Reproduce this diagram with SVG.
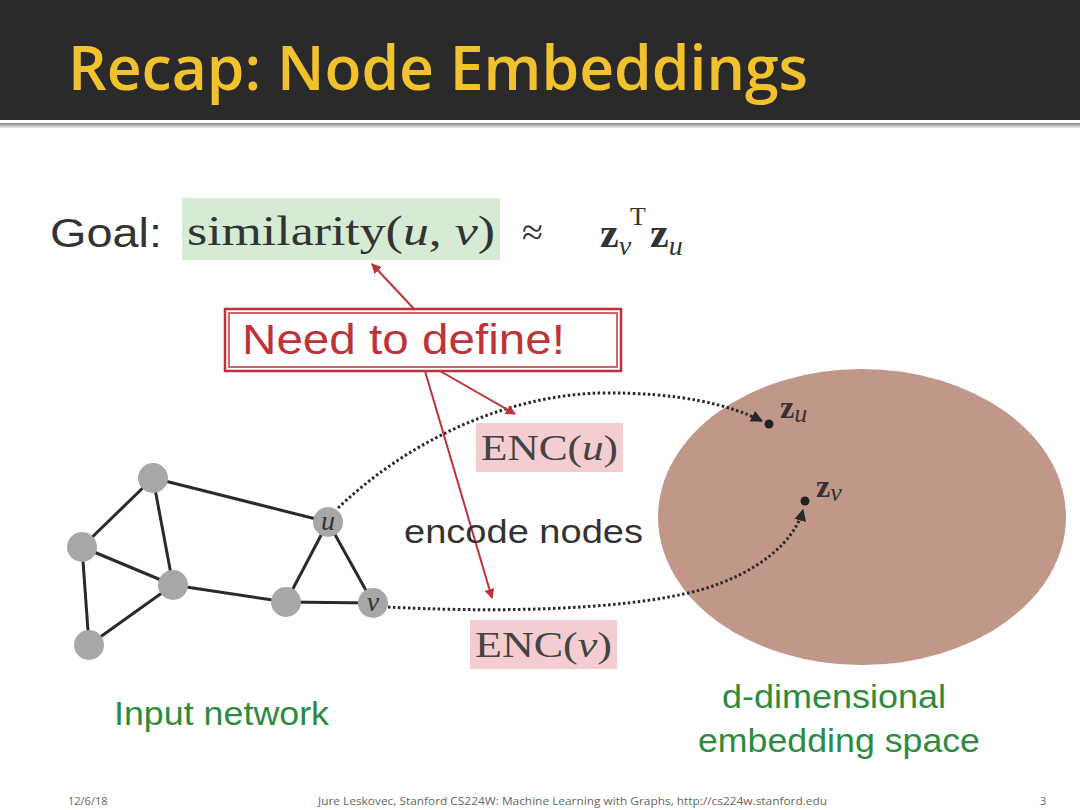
<svg xmlns="http://www.w3.org/2000/svg" width="1080" height="810" viewBox="0 0 1080 810">
<defs>
<style>
.edge{stroke:#2a2a2a;stroke-width:3;fill:none}
.node{fill:#a6a8a7}
.dot{stroke:#2a2a2a;stroke-width:3;fill:none;stroke-dasharray:2.5 2.5}
.red{stroke:#c0323a;stroke-width:2;fill:none}
.serif{font-family:"Liberation Serif","DejaVu Serif",serif}
.sans{font-family:"Liberation Sans",Arial,sans-serif}
.green{fill:#2e8b3e}
</style>
<marker id="ra" viewBox="0 0 10 10" refX="9" refY="5" markerWidth="5" markerHeight="5" orient="auto"><path d="M0,0 L10,5 L0,10 z" fill="#c0323a"/></marker>
<marker id="ka" viewBox="0 0 10 10" refX="9" refY="5" markerWidth="4" markerHeight="4" orient="auto"><path d="M0,0 L10,5 L0,10 z" fill="#2a2a2a"/></marker>
<linearGradient id="bar" x1="0" y1="0" x2="0" y2="1"><stop offset="0" stop-color="#888"/><stop offset="1" stop-color="#eee"/></linearGradient>
</defs>
<rect width="1080" height="810" fill="#fff"/>
<g id="title">
<rect x="0" y="0" width="1080" height="120" fill="#2a2a2a"/>
<rect x="0" y="123" width="1080" height="5" fill="url(#bar)"/>
<text x="68" y="90" font-family="Open Sans,Liberation Sans,sans-serif" font-weight="600" font-size="62" fill="#f2c12e" textLength="740" lengthAdjust="spacingAndGlyphs">Recap: Node Embeddings</text>
</g>
<g id="goal">
<text x="50" y="247" class="sans" font-size="41" fill="#333" textLength="112" lengthAdjust="spacingAndGlyphs">Goal:</text>
<rect x="182" y="198" width="318" height="62" fill="#d5ebd3"/>
<text x="187" y="245" class="serif" font-size="42" fill="#333" textLength="308" lengthAdjust="spacingAndGlyphs">similarity(<tspan font-style="italic">u</tspan>, <tspan font-style="italic">v</tspan>)</text>
<text x="522" y="245" class="serif" font-size="38" fill="#333">≈</text>
<text x="600" y="247" class="serif" font-size="42" fill="#333"><tspan font-weight="bold">z</tspan><tspan font-size="28" font-style="italic" dy="8">v</tspan><tspan font-size="26" x="630" dy="-30">T</tspan><tspan font-weight="bold" x="650" dy="22">z</tspan><tspan font-size="28" font-style="italic" dy="8">u</tspan></text>
</g>
<g id="need-to-define">
<rect x="225" y="309" width="396" height="62" fill="#fff" stroke="#c0323a" stroke-width="2.5"/>
<rect x="229" y="313" width="388" height="54" fill="none" stroke="#c0323a" stroke-width="1.5"/>
<text x="242" y="354" class="sans" font-size="42" fill="#c0323a" textLength="323" lengthAdjust="spacingAndGlyphs">Need to define!</text>
</g>
<g id="network">
<line class="edge" x1="153" y1="478" x2="82" y2="547"/>
<line class="edge" x1="153" y1="478" x2="173" y2="585"/>
<line class="edge" x1="153" y1="478" x2="328" y2="522"/>
<line class="edge" x1="82" y1="547" x2="173" y2="585"/>
<line class="edge" x1="82" y1="547" x2="89" y2="645"/>
<line class="edge" x1="173" y1="585" x2="89" y2="645"/>
<line class="edge" x1="173" y1="585" x2="286" y2="602"/>
<line class="edge" x1="286" y1="602" x2="328" y2="522"/>
<line class="edge" x1="286" y1="602" x2="373" y2="603"/>
<line class="edge" x1="328" y1="522" x2="373" y2="603"/>
<circle id="n1" class="node" cx="153" cy="478" r="15"/>
<circle id="n2" class="node" cx="82" cy="547" r="15"/>
<circle id="n3" class="node" cx="173" cy="585" r="15"/>
<circle id="n4" class="node" cx="89" cy="645" r="15"/>
<circle id="n5" class="node" cx="286" cy="602" r="15"/>
<g id="node-u"><circle class="node" cx="328" cy="522" r="15"/><text x="328" y="530" text-anchor="middle" class="serif" font-style="italic" font-size="28" fill="#333">u</text></g>
<g id="node-v"><circle class="node" cx="373" cy="603" r="15"/><text x="373" y="611" text-anchor="middle" class="serif" font-style="italic" font-size="28" fill="#333">v</text></g>
</g>
<g id="embedding-space">
<ellipse cx="862" cy="517" rx="204" ry="148" fill="#c1978a"/>
<circle cx="769" cy="424" r="4.5" fill="#222"/>
<text x="780" y="418" class="serif" font-size="32" fill="#333"><tspan font-weight="bold">z</tspan><tspan font-style="italic" font-size="26" dy="4">u</tspan></text>
<circle cx="805" cy="501" r="4.5" fill="#222"/>
<text x="816" y="497" class="serif" font-size="32" fill="#333"><tspan font-weight="bold">z</tspan><tspan font-style="italic" font-size="26" dy="4">v</tspan></text>
</g>
<g id="enc-u">
<rect x="476" y="423" width="147" height="49" fill="#f4cdd0"/>
<text x="481" y="460" class="serif" font-size="36" fill="#444" textLength="137" lengthAdjust="spacingAndGlyphs">ENC(<tspan font-style="italic">u</tspan>)</text>
</g>
<g id="enc-v">
<rect x="470" y="620" width="147" height="49" fill="#f4cdd0"/>
<text x="475" y="657" class="serif" font-size="36" fill="#444" textLength="137" lengthAdjust="spacingAndGlyphs">ENC(<tspan font-style="italic">v</tspan>)</text>
</g>
<g id="connectors">
<path class="dot" d="M338,508 C420,430 520,395 600,393 C680,392 730,405 762,421" marker-end="url(#ka)"/>
<path class="dot" d="M388,607 C480,612 620,612 700,590 C760,573 795,540 803,510" marker-end="url(#ka)"/>
<line class="red" x1="415" y1="310" x2="372" y2="264" marker-end="url(#ra)"/>
<line class="red" x1="440" y1="371" x2="515" y2="414" marker-end="url(#ra)"/>
<line class="red" x1="425" y1="371" x2="492" y2="598" marker-end="url(#ra)"/>
</g>
<g id="labels">
<text x="404" y="543" class="sans" font-size="33" fill="#333" textLength="239" lengthAdjust="spacingAndGlyphs">encode nodes</text>
<text x="114" y="725" class="sans green" font-size="33" textLength="215" lengthAdjust="spacingAndGlyphs">Input network</text>
<text x="722" y="708" class="sans green" font-size="33" textLength="224" lengthAdjust="spacingAndGlyphs">d-dimensional</text>
<text x="698" y="752" class="sans green" font-size="33" textLength="282" lengthAdjust="spacingAndGlyphs">embedding space</text>
</g>
<g id="footer" font-family="Open Sans,Liberation Sans,sans-serif" font-size="11" fill="#666">
<text x="68" y="805">12/6/18</text>
<text x="318" y="805" textLength="509" lengthAdjust="spacingAndGlyphs">Jure Leskovec, Stanford CS224W: Machine Learning with Graphs, http://cs224w.stanford.edu</text>
<text x="1040" y="805">3</text>
</g>
</svg>
